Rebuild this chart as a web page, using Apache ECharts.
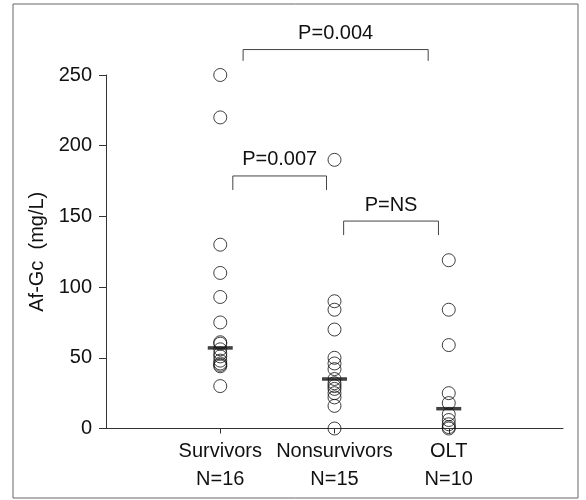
<!DOCTYPE html>
<html>
<head>
<meta charset="utf-8">
<script src="https://cdn.jsdelivr.net/npm/echarts@6/dist/echarts.min.js"></script>
<style>
  html, body { margin: 0; padding: 0; background: #fff; }
  #chart { width: 586px; height: 500px; }
</style>
</head>
<body>
<div id="chart"></div>
<script>
const groups = ['Survivors', 'Nonsurvivors', 'OLT'];
const groupN = ['N=16', 'N=15', 'N=10'];

const survivors = [250, 220, 130, 110, 93, 75, 61, 60, 56, 53, 51, 48, 46, 45, 44, 30];
const nonsurvivors = [190, 90, 84, 70, 50, 46, 42, 35, 32, 30, 28, 25, 22, 16, 0];
const olt = [119, 84, 59, 25, 18, 10, 6, 3, 1, 0];
const medians = [57, 35, 14];

// comparison brackets (x in group units, y in mg/L)
const bracketLabels = ['P=0.004', 'P=0.007', 'P=NS'];
const bracketFrom = [1.2, 1.11, 2.08];
const bracketTo = [2.82, 1.93, 2.91];
const bracketTop = [268, 178.6, 146.7];
const bracketLeg = [260, 168.7, 136.8];

const FONT = '"Liberation Sans", Arial, sans-serif';
const INK = '#111';

const toPoints = (vals, x) => vals.map(v => [x, v]);

const chart = echarts.init(document.getElementById('chart'));

chart.setOption({
  animation: false,
  backgroundColor: '#fff',
  graphic: [
    {
      type: 'rect',
      shape: { x: 13, y: 4, width: 565, height: 494 },
      style: { fill: 'none', stroke: '#666', lineWidth: 1 },
      silent: true
    }
  ],
  grid: { left: 106, right: 23, top: 75, bottom: 71.5 },
  xAxis: {
    type: 'value',
    min: 0,
    max: 4,
    interval: 1,
    splitLine: { show: false },
    axisLine: { lineStyle: { color: '#333', width: 1 } },
    axisTick: { length: 5, lineStyle: { color: '#333' } },
    axisLabel: {
      margin: 9,
      color: INK,
      fontFamily: FONT,
      fontSize: 20,
      lineHeight: 28,
      showMinLabel: false,
      showMaxLabel: false,
      formatter: v => (v >= 1 && v <= 3) ? groups[v - 1] + '\n' + groupN[v - 1] : ''
    }
  },
  yAxis: {
    type: 'value',
    min: 0,
    max: 250,
    interval: 50,
    name: 'Af-Gc  (mg/L)',
    nameLocation: 'middle',
    nameGap: 58,
    nameTextStyle: { color: INK, fontFamily: FONT, fontSize: 20 },
    splitLine: { show: false },
    axisLine: { show: true, lineStyle: { color: '#333', width: 1 } },
    axisTick: { show: true, length: 7, lineStyle: { color: '#333' } },
    axisLabel: { margin: 14, color: INK, fontFamily: FONT, fontSize: 20 }
  },
  series: [
    ...[survivors, nonsurvivors, olt].map((vals, i) => ({
      name: groups[i],
      type: 'scatter',
      data: toPoints(vals, i + 1),
      symbol: 'circle',
      symbolSize: 13,
      clip: false,
      itemStyle: { color: 'rgba(0,0,0,0)', borderColor: INK, borderWidth: 1 }
    })),
    {
      name: 'Median',
      type: 'scatter',
      data: medians.map((m, i) => [i + 1, m]),
      symbol: 'rect',
      symbolSize: [25, 3.5],
      z: 5,
      itemStyle: { color: '#111' }
    },
    {
      name: 'Brackets',
      type: 'custom',
      clip: false,
      silent: true,
      data: bracketLabels.map((t, i) => [bracketFrom[i], bracketTo[i], bracketTop[i], bracketLeg[i]]),
      renderItem: (params, api) => {
        const i = params.dataIndex;
        const a = api.coord([api.value(0), api.value(2)]);
        const b = api.coord([api.value(1), api.value(2)]);
        const legY = api.coord([api.value(0), api.value(3)])[1];
        return {
          type: 'group',
          children: [
            {
              type: 'polyline',
              shape: { points: [[a[0], legY], a, b, [b[0], legY]] },
              style: { fill: 'none', stroke: '#444', lineWidth: 1 }
            },
            {
              type: 'text',
              style: {
                x: (a[0] + b[0]) / 2,
                y: a[1] - 16,
                text: bracketLabels[i],
                fill: INK,
                font: '20px ' + FONT,
                textAlign: 'center',
                textVerticalAlign: 'middle'
              }
            }
          ]
        };
      }
    }
  ]
});
</script>
</body>
</html>
